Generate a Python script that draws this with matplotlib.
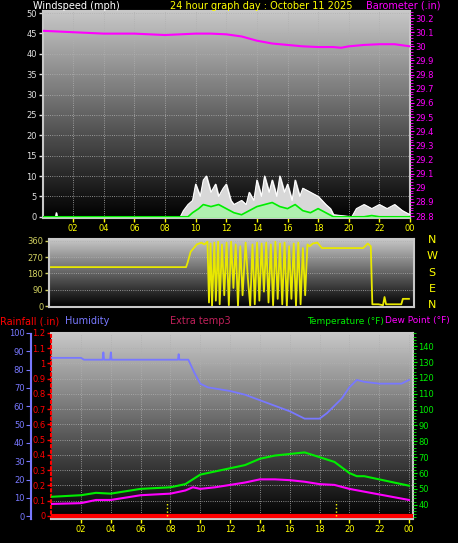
import numpy as np
import matplotlib.pyplot as plt

W, H = 458, 543

# ---- data ----
baro_t = [0, 1, 2, 3, 4, 5, 6, 7, 8, 9, 10, 11, 12, 13, 14, 15, 16, 17, 18, 19, 19.5, 20, 21, 22, 23, 24]
baro_v = [30.11, 30.105, 30.10, 30.095, 30.09, 30.09, 30.09, 30.085, 30.08, 30.085, 30.09, 30.09,
          30.085, 30.07, 30.04, 30.02, 30.01, 30.0, 29.995, 29.995, 29.99, 30.0, 30.01, 30.015, 30.015, 30.0]

gust_t = [0, 0.85, 0.9, 0.95, 9.0, 9.2, 9.5, 9.8, 10.0, 10.3, 10.5, 10.7, 11.0, 11.3, 11.5, 11.8, 12.0,
          12.3, 12.5, 13.0, 13.3, 13.5, 13.8, 14.0, 14.3, 14.5, 14.8, 15.0, 15.3, 15.5, 15.8, 16.0, 16.3,
          16.5, 16.8, 17.0, 17.5, 18.0, 18.5, 18.8, 19.0, 20.2, 20.5, 21.0, 21.5, 22.0, 22.5, 23.0, 23.5, 24.0]
gust_v = [0, 0, 1, 0, 0, 1.5, 3, 4, 8, 5, 9, 10, 6, 8, 5, 7, 8,
          4, 3, 4, 3, 6, 4, 9, 5, 10, 6, 9, 5, 10, 6, 8, 4,
          9, 5, 7, 6, 5, 3, 2, 0.5, 0, 2, 3, 2, 3, 2, 3, 1.5, 0.5]
avg_t = [0, 9.5, 9.8, 10.2, 10.5, 11.0, 11.5, 12.0, 12.5, 13.0, 13.5, 14.0, 14.5, 15.0, 15.5,
         16.0, 16.5, 17.0, 17.5, 18.0, 18.5, 19.0, 21.0, 21.5, 22.0, 24.0]
avg_v = [0, 0, 1, 2, 3, 2.5, 3, 2, 1, 0.5, 1.5, 2.5, 3, 3.5, 2.5, 2, 3, 1.5, 1, 2, 1, 0, 0, 0.3, 0, 0]

dir_t = [0, 9.4, 9.5, 9.7, 9.9, 10.1, 10.4, 10.6, 10.8, 10.9, 11.0, 11.1, 11.25, 11.35, 11.5, 11.6,
         11.75, 11.9, 12.05, 12.2, 12.35, 12.5, 12.65, 12.8, 12.95, 13.1, 13.3, 13.45, 13.6, 13.75,
         13.9, 14.05, 14.2, 14.35, 14.5, 14.65, 14.8, 14.95, 15.1, 15.25, 15.4, 15.55, 15.7, 15.85,
         16.0, 16.15, 16.3, 16.45, 16.6, 16.75, 16.9, 17.05, 17.2, 17.35, 17.5, 17.7, 18.0, 18.3,
         20.0, 21.0, 21.3, 21.5, 21.6, 22.0, 22.3, 22.4, 22.5, 23.5, 23.6, 24.0]
dir_v = [215, 215, 240, 300, 320, 340, 350, 340, 355, 20, 345, 0, 350, 30, 355, 10, 340, 60, 350, 5,
         355, 100, 340, 0, 330, 60, 350, 150, 0, 340, 10, 350, 30, 345, 80, 350, 20, 340, 5, 355,
         40, 345, 10, 350, 0, 330, 40, 345, 0, 350, 10, 320, 60, 340, 330, 345, 350, 320, 320,
         320, 345, 330, 10, 10, 5, 50, 10, 10, 40, 40]

hum_t = [0, 2, 2.2, 3.45, 3.5, 3.55, 3.95, 4.0, 4.05, 8.5, 8.55, 8.6, 9.2, 9.6, 10.0, 10.5, 12, 13, 14,
         15, 16, 17, 18, 18.5, 19.5, 20, 20.5, 21, 22, 23.5, 24]
hum_v = [86, 86, 85, 85, 89, 85, 85, 89, 85, 85, 88, 85, 85, 78, 72, 70, 68, 66, 63, 60, 57, 53,
         53, 56, 64, 70, 74, 73, 72, 72, 74]
temp_t = [0, 2, 3, 4, 6, 8, 9, 10, 11, 12, 13, 14, 15, 16, 17, 18, 19, 20, 20.5, 21, 22, 23, 24]
temp_v = [45, 46, 47.5, 47, 50, 51, 53, 59, 61, 63, 65, 69, 71, 72, 73, 70, 67, 60, 58, 58, 56, 54, 52]
dew_t = [0, 2, 3, 4, 6, 8, 9, 9.5, 10, 11, 12, 13, 14, 15, 16, 17, 18, 19, 20, 22, 24]
dew_v = [40.5, 41, 43, 43, 46, 47, 49, 51, 50, 51, 52.5, 54, 56, 56, 55.5, 54.5, 53, 52.5, 50, 46.5, 43]
rain_marks = [7.8, 19.1]

hour_ticks = list(range(2, 25, 2))
hour_labels = ['%02d' % (h % 24) for h in hour_ticks]

YEL = '#ffff00'
MAG = '#ff00ff'
GRN = '#00ee00'
BLUE = '#7878ff'
RED = '#ff0000'


def pax(l, t, r, b):
    return fig.add_axes([l / W, 1 - b / H, (r - l) / W, (b - t) / H])


def gradient(ax, top=0.78, bottom=0.0):
    g = np.linspace(top, bottom, 100).reshape(-1, 1)
    ax.imshow(g, cmap='gray', vmin=0, vmax=1, aspect='auto', extent=[0, 1, 0, 1],
              transform=ax.transAxes, zorder=0)


def style(ax, xl, yl):
    ax.set_facecolor('black')
    ax.set_xlim(*xl)
    ax.set_ylim(*yl)
    for s in ax.spines.values():
        s.set_color('#c8c8c8')
        s.set_linewidth(1.5)
    ax.tick_params(labelsize=6, length=3, width=1, pad=1)
    ax.minorticks_on()
    ax.tick_params(which='minor', length=2)


plt.rcParams['font.family'] = 'DejaVu Sans'
fig = plt.figure(figsize=(W / 100, H / 100), dpi=100, facecolor='black')

# ---- top panel: wind + barometer ----
ax1 = pax(42.5, 11, 410, 218)
style(ax1, (0, 24), (-0.3, 50.5))
gradient(ax1)
ax1.set_yticks(range(0, 51, 5))
ax1.set_xticks(hour_ticks)
ax1.set_xticklabels(hour_labels)
ax1.tick_params(axis='x', colors=YEL)
ax1.tick_params(axis='y', colors='#e0e0e0')
ax1.grid(True, color='#b0b0b0', linestyle=':', linewidth=0.6)
ax1.fill_between(gust_t, 0, gust_v, color='#d8d8d8', zorder=2)
ax1.plot(gust_t, gust_v, color='white', lw=0.8, zorder=3)
ax1.fill_between(avg_t, 0, avg_v, color='#b0f0b0', zorder=4)
ax1.plot(avg_t, avg_v, color=GRN, lw=1.2, zorder=5)
ax1.axhline(-0.2, color='#a0f0a0', lw=2, zorder=5)
axb = ax1.twinx()
axb.set_ylim(28.786, 30.25)
axb.set_yticks(np.round(np.arange(28.8, 30.21, 0.1), 1))
axb.set_yticklabels(['%g' % v for v in np.round(np.arange(28.8, 30.21, 0.1), 1)])
axb.tick_params(colors=MAG, labelsize=6, length=3, pad=1)
axb.minorticks_on()
axb.tick_params(which='minor', colors=MAG, length=2)
for s in axb.spines.values():
    s.set_visible(False)
axb.plot(baro_t, baro_v, color=MAG, lw=1.5)

fig.text(33 / W, 1 - 6 / H, 'Windspeed (mph)', color='white', fontsize=7, va='center')
fig.text(170 / W, 1 - 6 / H, '24 hour graph day : October 11 2025', color=YEL, fontsize=7, va='center')
fig.text(366 / W, 1 - 6 / H, 'Barometer (.in)', color=MAG, fontsize=7, va='center')

# ---- middle panel: wind direction ----
ax2 = pax(49, 239, 414, 307)
style(ax2, (0.42, 24.33), (-5, 370))
gradient(ax2)
ax2.set_yticks([0, 90, 180, 270, 360])
ax2.set_xticks([])
ax2.tick_params(axis='y', colors='#d0d060')
ax2.grid(True, axis='y', color='#b0b0b0', linestyle=':', linewidth=0.6)
ax2.plot(dir_t, dir_v, color='#e8e800', lw=1.3)
for i, c in enumerate(['N', 'W', 'S', 'E', 'N']):
    fig.text(432 / W, 1 - (240 + i * 16.3) / H, c, color=YEL, fontsize=8, ha='center', va='center')

# ---- bottom panel: humidity / temperature ----
ax3 = pax(51.2, 333, 413, 519)
style(ax3, (0, 24.27), (-0.02, 1.196))
gradient(ax3)
ax3.set_yticks(np.round(np.arange(0, 1.21, 0.1), 1))
ax3.set_yticklabels(['0'] + ['%g' % v for v in np.round(np.arange(0.1, 1.21, 0.1), 1)])
ax3.tick_params(axis='y', colors=RED)
ax3.spines['left'].set_color(RED)
ax3.spines['left'].set_linestyle(':')
ax3.set_xticks(hour_ticks)
ax3.set_xticklabels(hour_labels)
ax3.tick_params(axis='x', colors=YEL)
ax3.grid(True, color='#b0b0b0', linestyle=':', linewidth=0.6)
ax3.axhline(0, color=RED, lw=3, zorder=6)
for t in rain_marks:
    ax3.plot([t, t], [0, 0.1], color=YEL, lw=1, linestyle=':', zorder=6)

axh = fig.add_axes(ax3.get_position(), frameon=False)
axh.set_xlim(0, 24.27)
axh.set_ylim(-1.5, 99.5)
axh.set_xticks([])
axh.set_yticks([])
axh.plot(hum_t, hum_v, color=BLUE, lw=1.3)

axt = ax3.twinx()
axt.set_ylim(31, 148.3)
axt.set_yticks(range(40, 141, 10))
axt.tick_params(colors=GRN, labelsize=6, length=3, pad=1)
axt.minorticks_on()
axt.tick_params(which='minor', colors=GRN, length=2)
for s in axt.spines.values():
    s.set_visible(False)
axt.plot(temp_t, temp_v, color=GRN, lw=1.5)
axt.plot(dew_t, dew_v, color=MAG, lw=1.5)

# separate humidity scale on far left
axs = pax(30, 333, 31, 519)
axs.set_facecolor(BLUE)
axs.set_ylim(-1.5, 99.5)
axs.set_xticks([])
axs.set_yticks(range(0, 101, 10))
axs.tick_params(colors=BLUE, labelsize=6, length=3, pad=1)
for s in axs.spines.values():
    s.set_color(BLUE)

fig.text(0 / W, 1 - 321 / H, 'Rainfall (.in)', color=RED, fontsize=7, va='center')
fig.text(65 / W, 1 - 321 / H, 'Humidity', color=BLUE, fontsize=7, va='center')
fig.text(170 / W, 1 - 321 / H, 'Extra temp3', color='#c0205a', fontsize=7, va='center')
fig.text(384 / W, 1 - 321 / H, 'Temperature (°F)', color=GRN, fontsize=6.5, va='center', ha='right')
fig.text(385 / W, 1 - 321 / H, 'Dew Point (°F)', color=MAG, fontsize=6.5, va='center')

fig.savefig('out.png', dpi=100, facecolor='black')
